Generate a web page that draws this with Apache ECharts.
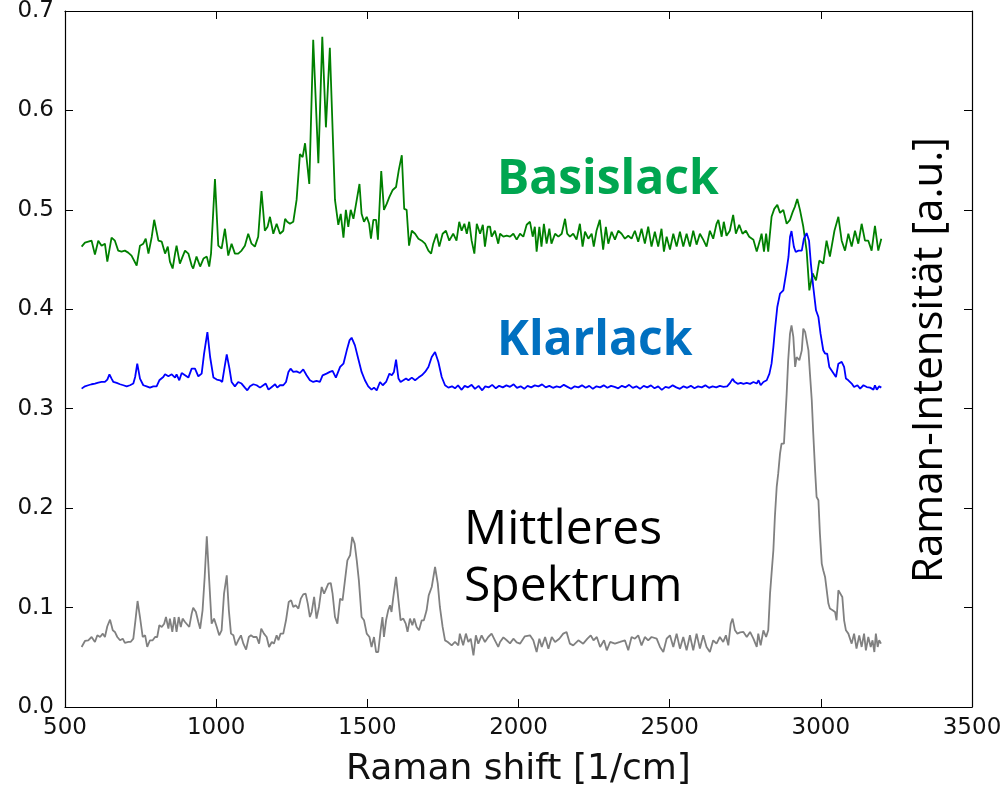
<!DOCTYPE html>
<html>
<head>
<meta charset="utf-8">
<script src="https://cdn.jsdelivr.net/npm/echarts@6/dist/echarts.min.js"></script>
<style>
html,body{margin:0;padding:0;background:#fff;}
#chart{width:1006px;height:788px;}
</style>
</head>
<body>
<div id="chart"></div>
<script>
// x ticks / y ticks
const xTicks = [500, 1000, 1500, 2000, 2500, 3000, 3500];
const yTicks = [0.0, 0.1, 0.2, 0.3, 0.4, 0.5, 0.6, 0.7];

// Basislack (green) spectrum: [Raman shift, intensity]
const basislack = [
[555,0.463],[566,0.467],[577,0.468],[588,0.469],[599,0.455],[610,0.469],[621,0.464],[632,0.466],[640,0.448],[654,0.472],
[665,0.469],[676,0.459],[687,0.458],[698,0.459],[709,0.457],[720,0.454],[726,0.453],[737,0.444],[748,0.464],[759,0.466],
[767,0.471],[776,0.456],[787,0.473],[795,0.490],[809,0.469],[820,0.468],[831,0.456],[840,0.463],[847,0.448],[856,0.441],
[864,0.456],[869,0.464],[880,0.446],[889,0.453],[897,0.459],[908,0.456],[919,0.444],[924,0.441],[935,0.453],[947,0.443],
[958,0.451],[969,0.453],[977,0.443],[983,0.456],[996,0.531],[1007,0.464],[1018,0.461],[1029,0.481],[1040,0.454],[1051,0.466],
[1062,0.456],[1073,0.456],[1084,0.459],[1095,0.464],[1106,0.476],[1117,0.466],[1128,0.463],[1139,0.473],[1150,0.519],[1161,0.479],
[1170,0.483],[1178,0.493],[1189,0.476],[1200,0.486],[1211,0.476],[1222,0.479],[1228,0.491],[1235,0.488],[1244,0.486],[1255,0.488],
[1266,0.510],[1277,0.556],[1286,0.553],[1294,0.567],[1308,0.526],[1321,0.671],[1338,0.547],[1351,0.674],[1363,0.583],[1376,0.663],
[1393,0.510],[1404,0.485],[1412,0.496],[1421,0.472],[1429,0.500],[1437,0.483],[1445,0.500],[1454,0.491],[1461,0.503],[1474,0.526],
[1481,0.496],[1489,0.488],[1498,0.493],[1506,0.486],[1512,0.471],[1520,0.490],[1529,0.490],[1535,0.470],[1546,0.539],[1555,0.500],
[1564,0.506],[1573,0.513],[1584,0.520],[1595,0.523],[1604,0.540],[1614,0.555],[1622,0.501],[1630,0.500],[1638,0.464],[1647,0.479],
[1658,0.476],[1669,0.471],[1680,0.469],[1691,0.466],[1702,0.459],[1711,0.456],[1718,0.466],[1729,0.476],[1738,0.463],[1749,0.476],
[1760,0.479],[1771,0.469],[1784,0.476],[1795,0.469],[1804,0.488],[1812,0.479],[1821,0.486],[1829,0.476],[1837,0.488],[1845,0.469],
[1854,0.456],[1862,0.486],[1873,0.476],[1882,0.485],[1889,0.463],[1898,0.483],[1906,0.483],[1911,0.473],[1922,0.479],[1933,0.466],
[1939,0.476],[1950,0.473],[1961,0.474],[1972,0.473],[1983,0.476],[1994,0.470],[2005,0.476],[2016,0.473],[2027,0.485],[2038,0.488],
[2047,0.473],[2054,0.483],[2060,0.458],[2069,0.483],[2076,0.463],[2084,0.486],[2093,0.466],[2102,0.481],[2109,0.466],[2121,0.476],
[2132,0.473],[2143,0.476],[2154,0.491],[2161,0.476],[2170,0.473],[2181,0.476],[2192,0.470],[2203,0.486],[2212,0.463],[2220,0.478],
[2231,0.471],[2242,0.476],[2249,0.463],[2258,0.479],[2269,0.490],[2275,0.491],[2280,0.460],[2289,0.483],[2297,0.466],[2308,0.478],
[2319,0.470],[2330,0.479],[2341,0.476],[2352,0.471],[2363,0.474],[2374,0.471],[2385,0.479],[2396,0.468],[2407,0.481],[2418,0.466],
[2429,0.483],[2440,0.463],[2451,0.478],[2462,0.463],[2473,0.481],[2481,0.458],[2490,0.473],[2501,0.460],[2512,0.476],[2523,0.463],
[2534,0.478],[2545,0.463],[2556,0.476],[2567,0.463],[2578,0.479],[2589,0.465],[2600,0.476],[2611,0.470],[2622,0.463],[2633,0.479],
[2644,0.471],[2655,0.486],[2661,0.490],[2672,0.473],[2679,0.488],[2688,0.474],[2699,0.479],[2710,0.495],[2719,0.476],[2730,0.485],
[2741,0.476],[2752,0.479],[2763,0.473],[2777,0.470],[2788,0.458],[2799,0.470],[2804,0.476],[2812,0.458],[2819,0.476],[2826,0.458],
[2837,0.493],[2846,0.501],[2856,0.505],[2865,0.497],[2876,0.500],[2887,0.486],[2898,0.490],[2907,0.498],[2914,0.503],[2922,0.511],
[2931,0.500],[2942,0.483],[2953,0.459],[2962,0.419],[2973,0.436],[2984,0.429],[2995,0.449],[3008,0.446],[3019,0.469],[3030,0.453],
[3045,0.479],[3058,0.493],[3069,0.469],[3080,0.459],[3091,0.476],[3102,0.463],[3113,0.479],[3124,0.466],[3135,0.486],[3146,0.469],
[3157,0.469],[3168,0.459],[3179,0.484],[3190,0.459],[3200,0.471]
];

// Klarlack (blue) spectrum
const klarlack = [
[555,0.3202],[566,0.3225],[577,0.3236],[588,0.3246],[599,0.3253],[610,0.3263],[621,0.3269],[632,0.3269],[640,0.3293],[647,0.3346],
[654,0.3303],[660,0.3269],[671,0.3259],[682,0.3246],[693,0.3236],[704,0.3225],[715,0.3236],[726,0.3253],[732,0.3319],[739,0.3453],
[748,0.3303],[759,0.3236],[770,0.3225],[781,0.3212],[792,0.3225],[803,0.3225],[812,0.3286],[825,0.3319],[831,0.3346],[842,0.3326],
[853,0.3346],[864,0.3313],[869,0.3346],[878,0.3286],[886,0.3359],[897,0.3336],[908,0.3313],[919,0.3403],[930,0.3403],[941,0.3326],
[952,0.3353],[960,0.3554],[971,0.3771],[980,0.3520],[991,0.3313],[1002,0.3293],[1013,0.3286],[1020,0.3269],[1028,0.3420],[1035,0.3547],
[1044,0.3403],[1051,0.3269],[1062,0.3225],[1073,0.3269],[1084,0.3253],[1095,0.3212],[1103,0.3185],[1112,0.3225],[1123,0.3246],[1134,0.3236],
[1145,0.3212],[1156,0.3236],[1164,0.3253],[1173,0.3192],[1184,0.3219],[1195,0.3246],[1202,0.3212],[1211,0.3236],[1222,0.3236],[1231,0.3269],
[1239,0.3370],[1246,0.3403],[1255,0.3370],[1266,0.3376],[1277,0.3359],[1288,0.3396],[1299,0.3336],[1310,0.3286],[1321,0.3269],[1332,0.3279],
[1343,0.3269],[1352,0.3336],[1365,0.3353],[1376,0.3370],[1385,0.3380],[1396,0.3313],[1410,0.3420],[1421,0.3453],[1432,0.3587],[1441,0.3687],
[1448,0.3714],[1459,0.3637],[1470,0.3503],[1481,0.3370],[1492,0.3286],[1503,0.3225],[1514,0.3192],[1522,0.3212],[1531,0.3185],[1542,0.3269],
[1551,0.3236],[1562,0.3269],[1573,0.3353],[1581,0.3336],[1588,0.3370],[1595,0.3493],[1603,0.3303],[1610,0.3269],[1619,0.3286],[1628,0.3303],
[1636,0.3286],[1647,0.3313],[1658,0.3286],[1669,0.3313],[1680,0.3336],[1691,0.3370],[1702,0.3420],[1713,0.3520],[1724,0.3570],[1735,0.3470],
[1746,0.3319],[1757,0.3236],[1768,0.3212],[1780,0.3225],[1790,0.3205],[1800,0.3235],[1812,0.3190],[1822,0.3230],[1833,0.3215],[1845,0.3240],
[1856,0.3200],[1868,0.3230],[1880,0.3185],[1890,0.3225],[1902,0.3215],[1913,0.3240],[1925,0.3205],[1936,0.3230],[1948,0.3215],[1960,0.3235],
[1972,0.3220],[1984,0.3245],[1995,0.3210],[2007,0.3225],[2019,0.3200],[2030,0.3230],[2042,0.3215],[2054,0.3235],[2066,0.3225],[2078,0.3245],
[2090,0.3215],[2102,0.3230],[2114,0.3210],[2126,0.3225],[2138,0.3215],[2150,0.3240],[2162,0.3220],[2174,0.3200],[2186,0.3225],[2198,0.3215],
[2210,0.3235],[2222,0.3210],[2234,0.3230],[2246,0.3200],[2258,0.3225],[2270,0.3215],[2282,0.3235],[2294,0.3210],[2306,0.3230],[2318,0.3220],
[2330,0.3205],[2342,0.3230],[2354,0.3215],[2366,0.3240],[2378,0.3210],[2390,0.3225],[2402,0.3200],[2414,0.3230],[2426,0.3215],[2438,0.3235],
[2450,0.3205],[2462,0.3225],[2474,0.3190],[2486,0.3220],[2498,0.3210],[2510,0.3235],[2522,0.3215],[2534,0.3200],[2546,0.3225],[2558,0.3210],
[2570,0.3230],[2582,0.3205],[2594,0.3225],[2606,0.3215],[2618,0.3235],[2630,0.3210],[2642,0.3225],[2654,0.3215],[2666,0.3230],[2678,0.3220],
[2690,0.3225],[2700,0.3260],[2708,0.3300],[2715,0.3270],[2725,0.3250],[2735,0.3260],[2744,0.3250],[2755,0.3259],[2766,0.3250],[2777,0.3269],
[2788,0.3253],[2794,0.3286],[2801,0.3236],[2810,0.3269],[2821,0.3286],[2830,0.3353],[2837,0.3453],[2843,0.3620],[2848,0.3789],[2856,0.4023],
[2865,0.4158],[2876,0.4191],[2885,0.4359],[2893,0.4526],[2898,0.4727],[2903,0.4787],[2911,0.4626],[2917,0.4576],[2926,0.4590],[2937,0.4590],
[2944,0.4710],[2953,0.4767],[2961,0.4690],[2967,0.4459],[2975,0.4224],[2984,0.3990],[2992,0.3922],[2999,0.3755],[3008,0.3588],[3014,0.3555],
[3021,0.3555],[3028,0.3420],[3039,0.3370],[3050,0.3319],[3058,0.3453],[3069,0.3471],[3077,0.3420],[3083,0.3303],[3091,0.3286],[3102,0.3253],
[3110,0.3218],[3121,0.3236],[3130,0.3202],[3141,0.3236],[3152,0.3218],[3163,0.3212],[3174,0.3192],[3179,0.3236],[3185,0.3192],[3193,0.3225],
[3200,0.3212]
];

// Mittleres Spektrum (gray)
const mittleres = [
[555,0.0604],[566,0.0664],[577,0.0671],[588,0.0704],[599,0.0654],[607,0.0721],[616,0.0704],[625,0.0738],[632,0.0704],[640,0.0812],
[649,0.0879],[658,0.0771],[665,0.0755],[673,0.0704],[682,0.0671],[691,0.0687],[698,0.0644],[710,0.0654],[717,0.0654],[726,0.0687],
[733,0.0872],[740,0.1066],[748,0.0905],[757,0.0704],[765,0.0721],[772,0.0604],[781,0.0671],[790,0.0671],[798,0.0704],[805,0.0704],
[812,0.0822],[820,0.0805],[828,0.0838],[834,0.0905],[842,0.0788],[847,0.0889],[855,0.0755],[862,0.0905],[869,0.0755],[876,0.0905],
[883,0.0805],[889,0.0889],[897,0.0855],[902,0.0838],[911,0.0805],[919,0.0939],[924,0.0999],[933,0.0956],[941,0.0855],[947,0.0788],
[955,0.0972],[962,0.1308],[969,0.1717],[977,0.1274],[985,0.0838],[993,0.0889],[1002,0.0805],[1010,0.0721],[1018,0.0771],[1026,0.1140],
[1035,0.1325],[1042,0.0972],[1049,0.0738],[1057,0.0721],[1065,0.0620],[1073,0.0671],[1082,0.0721],[1090,0.0637],[1099,0.0577],[1108,0.0704],
[1115,0.0721],[1123,0.0704],[1134,0.0704],[1142,0.0637],[1149,0.0788],[1158,0.0738],[1167,0.0704],[1175,0.0604],[1184,0.0654],[1191,0.0637],
[1200,0.0721],[1206,0.0671],[1213,0.0738],[1222,0.0738],[1231,0.0872],[1240,0.1056],[1248,0.1073],[1255,0.1006],[1263,0.1023],[1272,0.0990],
[1280,0.1090],[1288,0.1133],[1296,0.1140],[1303,0.1040],[1310,0.0905],[1316,0.0956],[1324,0.1107],[1332,0.0889],[1340,0.1006],[1349,0.1207],
[1357,0.1140],[1362,0.1123],[1371,0.1241],[1379,0.1247],[1385,0.1140],[1393,0.0905],[1401,0.0838],[1410,0.1090],[1418,0.1073],[1426,0.1274],
[1434,0.1475],[1443,0.1526],[1450,0.1710],[1458,0.1643],[1465,0.1475],[1472,0.1274],[1481,0.0905],[1489,0.0872],[1498,0.0738],[1507,0.0704],
[1514,0.0604],[1522,0.0704],[1529,0.0553],[1536,0.0553],[1544,0.0771],[1550,0.0905],[1555,0.0704],[1562,0.0872],[1569,0.0972],[1575,0.1023],
[1580,0.0956],[1586,0.1107],[1595,0.1308],[1603,0.1073],[1610,0.0872],[1619,0.0889],[1627,0.0838],[1633,0.0755],[1641,0.0889],[1649,0.0822],
[1655,0.0889],[1663,0.0805],[1671,0.0771],[1680,0.0872],[1687,0.0872],[1696,0.0972],[1703,0.1123],[1713,0.1207],[1724,0.1408],[1733,0.1241],
[1740,0.1006],[1749,0.0805],[1757,0.0670],[1766,0.0654],[1779,0.0620],[1790,0.0654],[1801,0.0620],[1806,0.0738],[1817,0.0620],[1826,0.0738],
[1834,0.0654],[1842,0.0687],[1851,0.0520],[1859,0.0721],[1867,0.0637],[1878,0.0721],[1889,0.0654],[1900,0.0704],[1911,0.0738],[1922,0.0671],
[1933,0.0604],[1939,0.0654],[1950,0.0700],[1961,0.0671],[1972,0.0640],[1983,0.0687],[1994,0.0650],[2005,0.0637],[2021,0.0711],[2038,0.0721],
[2049,0.0671],[2060,0.0553],[2069,0.0687],[2077,0.0604],[2088,0.0704],[2099,0.0587],[2110,0.0704],[2121,0.0654],[2135,0.0687],[2148,0.0738],
[2159,0.0754],[2170,0.0637],[2181,0.0620],[2198,0.0671],[2214,0.0637],[2228,0.0687],[2239,0.0721],[2248,0.0671],[2259,0.0704],[2270,0.0604],
[2283,0.0671],[2292,0.0570],[2303,0.0654],[2319,0.0637],[2336,0.0654],[2352,0.0671],[2363,0.0570],[2374,0.0704],[2385,0.0687],[2396,0.0721],
[2407,0.0620],[2418,0.0704],[2429,0.0671],[2440,0.0704],[2457,0.0687],[2468,0.0604],[2479,0.0553],[2490,0.0687],[2501,0.0721],[2512,0.0604],
[2523,0.0738],[2534,0.0587],[2545,0.0704],[2556,0.0570],[2567,0.0721],[2578,0.0570],[2589,0.0738],[2600,0.0587],[2611,0.0721],[2622,0.0604],
[2633,0.0553],[2644,0.0671],[2655,0.0637],[2666,0.0704],[2677,0.0654],[2686,0.0721],[2694,0.0620],[2702,0.0838],[2708,0.0889],[2716,0.0771],
[2724,0.0738],[2733,0.0750],[2744,0.0755],[2755,0.0704],[2766,0.0755],[2777,0.0688],[2788,0.0604],[2793,0.0738],[2801,0.0620],[2810,0.0771],
[2819,0.0704],[2826,0.0771],[2832,0.1140],[2837,0.1341],[2843,0.1576],[2848,0.1911],[2854,0.2213],[2859,0.2347],[2865,0.2548],[2870,0.2649],
[2878,0.2649],[2881,0.2816],[2887,0.3152],[2892,0.3487],[2898,0.3755],[2903,0.3839],[2909,0.3722],[2915,0.3420],[2920,0.3520],[2929,0.3487],
[2937,0.3587],[2942,0.3805],[2948,0.3772],[2953,0.3755],[2959,0.3587],[2964,0.3353],[2970,0.3085],[2975,0.2749],[2981,0.2380],[2986,0.2112],
[2992,0.2079],[2997,0.1743],[3003,0.1442],[3008,0.1375],[3014,0.1308],[3019,0.1308],[3025,0.1040],[3030,0.0990],[3039,0.0973],[3047,0.0956],
[3052,0.0872],[3058,0.1174],[3063,0.1174],[3071,0.1107],[3077,0.0872],[3083,0.0771],[3091,0.0738],[3096,0.0755],[3102,0.0637],[3110,0.0738],
[3118,0.0587],[3127,0.0721],[3135,0.0604],[3143,0.0738],[3149,0.0570],[3157,0.0704],[3165,0.0604],[3171,0.0671],[3177,0.0553],[3182,0.0738],
[3188,0.0604],[3193,0.0671],[3199,0.0637]
];

const chart = echarts.init(document.getElementById('chart'), null, {renderer: 'canvas'});

const tickFont = 'DejaVu Sans';
const axisLineStyle = {color: '#000', width: 1.2};
const tickStyle = {show: true, inside: true, length: 8, lineStyle: {color: '#000', width: 1}};

function xAxisBase(pos, showLabel) {
  return {
    type: 'value', position: pos, min: xTicks[0], max: xTicks[xTicks.length - 1],
    interval: xTicks[1] - xTicks[0],
    axisLine: {show: true, onZero: false, lineStyle: axisLineStyle},
    axisTick: tickStyle,
    splitLine: {show: false},
    axisLabel: {show: showLabel, fontFamily: tickFont, fontSize: 23, color: '#111', margin: 10,
      formatter: v => String(v)}
  };
}
function yAxisBase(pos, showLabel) {
  return {
    type: 'value', position: pos, min: yTicks[0], max: yTicks[yTicks.length - 1],
    interval: 0.1,
    axisLine: {show: true, onZero: false, lineStyle: axisLineStyle},
    axisTick: tickStyle,
    splitLine: {show: false},
    axisLabel: {show: showLabel, fontFamily: tickFont, fontSize: 23, color: '#111', margin: 11,
      padding: [0, 0, 6, 0],
      formatter: v => v.toFixed(1)}
  };
}

const xBottom = xAxisBase('bottom', true);
xBottom.name = 'Raman shift [1/cm]';
xBottom.nameLocation = 'middle';
xBottom.nameGap = 45;
xBottom.nameTextStyle = {fontFamily: tickFont, fontSize: 36, color: '#111'};

const option = {
  animation: false,
  backgroundColor: '#fff',
  grid: {left: 65, right: 34, top: 11, bottom: 81, containLabel: false, outerBoundsMode: 'none'},
  xAxis: [xBottom, xAxisBase('top', false)],
  yAxis: [yAxisBase('left', true), yAxisBase('right', false)],
  series: [
    {name: 'Basislack', type: 'line', data: basislack, showSymbol: false, symbol: 'none',
      lineStyle: {color: '#008000', width: 1.8}, xAxisIndex: 0, yAxisIndex: 0},
    {name: 'Klarlack', type: 'line', data: klarlack, showSymbol: false, symbol: 'none',
      lineStyle: {color: '#0000ff', width: 1.8}, xAxisIndex: 0, yAxisIndex: 0},
    {name: 'Mittleres Spektrum', type: 'line', data: mittleres, showSymbol: false, symbol: 'none',
      lineStyle: {color: '#808080', width: 1.8}, xAxisIndex: 0, yAxisIndex: 0}
  ],
  graphic: [
    {type: 'text', x: 497, y: 180, style: {text: 'Basislack', fill: '#00a650',
      font: 'bold 48px "Open Sans"', align: 'left', verticalAlign: 'middle'}},
    {type: 'text', x: 497, y: 341, style: {text: 'Klarlack', fill: '#0070c0',
      font: 'bold 48px "Open Sans"', align: 'left', verticalAlign: 'middle'}},
    {type: 'text', x: 464, y: 530, style: {text: 'Mittleres', fill: '#000',
      font: '48px "Open Sans"', align: 'left', verticalAlign: 'middle'}},
    {type: 'text', x: 464, y: 587, style: {text: 'Spektrum', fill: '#000',
      font: '48px "Open Sans"', align: 'left', verticalAlign: 'middle'}},
    {type: 'text', x: 930, y: 360, rotation: Math.PI / 2, style: {text: 'Raman-Intensität [a.u.]', fill: '#000',
      font: '42px "Open Sans"', align: 'center', verticalAlign: 'middle'}}
  ]
};
chart.setOption(option);
</script>
</body>
</html>
